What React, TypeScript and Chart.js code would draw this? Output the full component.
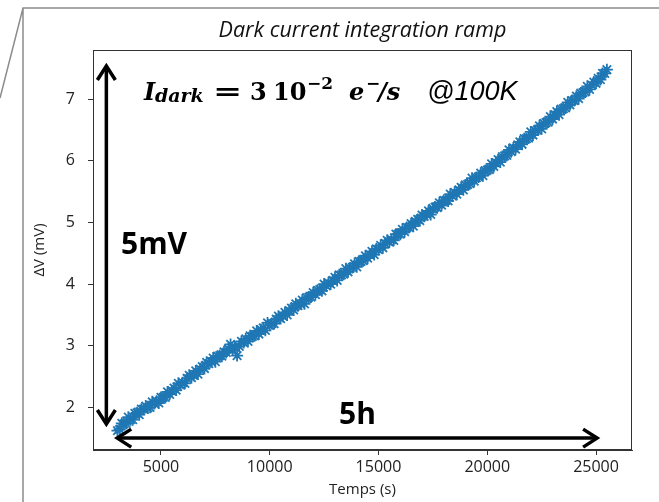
import { useEffect, useRef } from "react";
import { Chart, registerables } from "chart.js";

Chart.register(...registerables);

// ---- Data (time in s, ΔV in mV) ----
const TIME_S = [
  3000, 3100, 3200, 3300, 3400, 3500, 3600, 3700, 3800, 3900,
  4000, 4100, 4200, 4300, 4400, 4500, 4600, 4700, 4800, 4900,
  5000, 5100, 5200, 5300, 5400, 5500, 5600, 5700, 5800, 5900,
  6000, 6100, 6200, 6300, 6400, 6500, 6600, 6700, 6800, 6900,
  7000, 7100, 7200, 7300, 7400, 7500, 7600, 7700, 7800, 7900,
  8000, 8100, 8200, 8300, 8400, 8500, 8600, 8700, 8800, 8900,
  9000, 9100, 9200, 9300, 9400, 9500, 9600, 9700, 9800, 9900,
  10000, 10100, 10200, 10300, 10400, 10500, 10600, 10700, 10800, 10900,
  11000, 11100, 11200, 11300, 11400, 11500, 11600, 11700, 11800, 11900,
  12000, 12100, 12200, 12300, 12400, 12500, 12600, 12700, 12800, 12900,
  13000, 13100, 13200, 13300, 13400, 13500, 13600, 13700, 13800, 13900,
  14000, 14100, 14200, 14300, 14400, 14500, 14600, 14700, 14800, 14900,
  15000, 15100, 15200, 15300, 15400, 15500, 15600, 15700, 15800, 15900,
  16000, 16100, 16200, 16300, 16400, 16500, 16600, 16700, 16800, 16900,
  17000, 17100, 17200, 17300, 17400, 17500, 17600, 17700, 17800, 17900,
  18000, 18100, 18200, 18300, 18400, 18500, 18600, 18700, 18800, 18900,
  19000, 19100, 19200, 19300, 19400, 19500, 19600, 19700, 19800, 19900,
  20000, 20100, 20200, 20300, 20400, 20500, 20600, 20700, 20800, 20900,
  21000, 21100, 21200, 21300, 21400, 21500, 21600, 21700, 21800, 21900,
  22000, 22100, 22200, 22300, 22400, 22500, 22600, 22700, 22800, 22900,
  23000, 23100, 23200, 23300, 23400, 23500, 23600, 23700, 23800, 23900,
  24000, 24100, 24200, 24300, 24400, 24500, 24600, 24700, 24800, 24900,
  25000, 25100, 25200, 25300, 25400, 25500,
];

const DELTA_MV = [
  1.62, 1.64, 1.74, 1.73, 1.74, 1.84, 1.80, 1.80, 1.90, 1.91,
  1.88, 1.97, 1.97, 2.02, 1.99, 2.00, 2.09, 2.06, 2.10, 2.07,
  2.16, 2.16, 2.16, 2.25, 2.21, 2.27, 2.31, 2.28, 2.39, 2.36,
  2.40, 2.39, 2.47, 2.52, 2.48, 2.52, 2.59, 2.54, 2.62, 2.66,
  2.63, 2.73, 2.71, 2.74, 2.80, 2.74, 2.83, 2.84, 2.83, 2.90,
  2.89, 2.95, 3.02, 2.93, 2.98, 2.84, 2.99, 3.07, 3.05, 3.11,
  3.07, 3.16, 3.15, 3.16, 3.24, 3.19, 3.26, 3.29, 3.25, 3.37,
  3.33, 3.36, 3.36, 3.43, 3.48, 3.44, 3.48, 3.54, 3.50, 3.57,
  3.61, 3.58, 3.68, 3.65, 3.68, 3.74, 3.68, 3.78, 3.79, 3.79,
  3.86, 3.83, 3.90, 3.91, 3.89, 4.00, 3.97, 4.02, 4.00, 4.06,
  4.11, 4.06, 4.15, 4.15, 4.16, 4.25, 4.20, 4.26, 4.27, 4.33,
  4.28, 4.37, 4.37, 4.38, 4.46, 4.42, 4.48, 4.53, 4.48, 4.57,
  4.56, 4.63, 4.59, 4.66, 4.71, 4.68, 4.72, 4.71, 4.81, 4.81,
  4.81, 4.89, 4.85, 4.92, 4.92, 4.98, 4.94, 5.02, 5.05, 5.03,
  5.12, 5.10, 5.13, 5.19, 5.13, 5.23, 5.25, 5.24, 5.32, 5.28,
  5.36, 5.36, 5.35, 5.46, 5.43, 5.49, 5.46, 5.53, 5.57, 5.53,
  5.61, 5.62, 5.63, 5.72, 5.67, 5.73, 5.74, 5.80, 5.76, 5.84,
  5.85, 5.86, 5.95, 5.91, 5.97, 6.02, 5.98, 6.07, 6.08, 6.09,
  6.18, 6.15, 6.21, 6.19, 6.26, 6.31, 6.27, 6.36, 6.36, 6.37,
  6.47, 6.42, 6.49, 6.50, 6.57, 6.52, 6.61, 6.62, 6.63, 6.72,
  6.68, 6.75, 6.80, 6.75, 6.84, 6.85, 6.86, 6.95, 6.91, 6.98,
  6.98, 7.05, 7.01, 7.10, 7.11, 7.12, 7.21, 7.16, 7.23, 7.28,
  7.26, 7.34, 7.32, 7.42, 7.42, 7.48,
];

const X_LIMITS = [1876, 26654];
const Y_LIMITS = [1.307, 7.8];
const X_TICKS = [5000, 10000, 15000, 20000, 25000];
const Y_TICKS = [2, 3, 4, 5, 6, 7];

const TITLE = "Dark current integration ramp";
const X_TITLE = "Temps (s)";
const Y_TITLE = "ΔV (mV)";

const BLUE = "#1f77b4";
const AXIS = "#333333";

function arrowHead(ctx: CanvasRenderingContext2D, tx: number, ty: number, dx: number, dy: number, len: number, half: number) {
  const bx = tx - dx * len;
  const by = ty - dy * len;
  const px = -dy;
  const py = dx;
  ctx.beginPath();
  ctx.moveTo(bx + px * half, by + py * half);
  ctx.lineTo(tx, ty);
  ctx.lineTo(bx - px * half, by - py * half);
  ctx.stroke();
}

const annotationPlugin = {
  id: "annotations",
  afterDraw(chart: any) {
    const { ctx, chartArea: a, scales } = chart;
    const xs = scales.x;
    const ys = scales.y;
    ctx.save();

    // outer slide frame
    ctx.strokeStyle = "#8c8c8c";
    ctx.lineWidth = 1.5;
    ctx.beginPath();
    ctx.moveTo(0, 98);
    ctx.lineTo(23, 8);
    ctx.lineTo(659, 8);
    ctx.moveTo(23, 8);
    ctx.lineTo(23, 502);
    ctx.stroke();

    // plot frame
    ctx.strokeStyle = AXIS;
    ctx.lineWidth = 1;
    ctx.strokeRect(a.left + 0.5, a.top + 0.5, a.right - a.left - 1, a.bottom - a.top - 1);

    // arrows
    ctx.strokeStyle = "#000";
    ctx.lineWidth = 3.5;
    ctx.lineCap = "butt";
    ctx.lineJoin = "miter";
    const vx = xs.getPixelForValue(2490);
    const vTop = ys.getPixelForValue(7.54);
    const vBot = ys.getPixelForValue(1.73);
    ctx.beginPath();
    ctx.moveTo(vx, vTop + 2);
    ctx.lineTo(vx, vBot - 2);
    ctx.stroke();
    arrowHead(ctx, vx, vTop, 0, -1, 14, 9);
    arrowHead(ctx, vx, vBot, 0, 1, 14, 9);

    const hy = ys.getPixelForValue(1.5);
    const hL = xs.getPixelForValue(2990);
    const hR = xs.getPixelForValue(25050);
    ctx.beginPath();
    ctx.moveTo(hL + 2, hy);
    ctx.lineTo(hR - 2, hy);
    ctx.stroke();
    arrowHead(ctx, hL, hy, -1, 0, 14, 9);
    arrowHead(ctx, hR, hy, 1, 0, 14, 9);

    // labels
    ctx.fillStyle = "#000";
    ctx.textBaseline = "alphabetic";
    ctx.textAlign = "left";
    ctx.font = "bold 30px 'Open Sans'";
    ctx.fillText("5mV", 121, 254);
    ctx.fillText("5h", 339, 424);

    // formula
    const serif = "'DejaVu Serif'";
    ctx.font = `italic bold 24px ${serif}`;
    ctx.fillText("I", 144, 100);
    ctx.font = `italic bold 19px ${serif}`;
    ctx.fillText("dark", 155, 102);
    ctx.font = `bold 24px ${serif}`;
    ctx.save();
    ctx.translate(213, 100);
    ctx.scale(1.45, 1);
    ctx.fillText("=", 0, 0);
    ctx.restore();
    ctx.fillText("3", 250, 100);
    ctx.fillText("10", 273, 100);
    ctx.font = `bold 17px ${serif}`;
    ctx.fillText("−2", 307, 89);
    ctx.font = `italic bold 24px ${serif}`;
    ctx.fillText("e", 349, 100);
    ctx.font = `bold 17px ${serif}`;
    ctx.fillText("−", 366, 89);
    ctx.font = `italic bold 24px ${serif}`;
    ctx.fillText("/s", 378, 100);
    ctx.font = "italic 27px 'Liberation Sans'";
    ctx.fillText("@100K", 427, 100);

    ctx.restore();
  },
};

export default function App() {
  const ref = useRef<HTMLCanvasElement | null>(null);

  useEffect(() => {
    if (!ref.current) return;
    const points = TIME_S.map((t, i) => ({ x: t, y: DELTA_MV[i] }));
    const tickFont = { family: "'Open Sans'", size: 16 };
    const chart = new Chart(ref.current, {
      type: "scatter",
      data: {
        datasets: [
          {
            data: points,
            pointStyle: "star",
            pointRadius: 6,
            pointBorderWidth: 1.8,
            borderColor: BLUE,
            backgroundColor: BLUE,
            showLine: false,
          },
        ],
      },
      options: {
        responsive: false,
        animation: false,
        events: [],
        devicePixelRatio: 1,
        layout: { padding: { left: 0, right: 27, top: 0, bottom: 0 } },
        plugins: {
          legend: { display: false },
          tooltip: { enabled: false },
          title: {
            display: true,
            text: TITLE,
            fullSize: false,
            color: "#111",
            font: { family: "'Open Sans'", size: 21.5, style: "italic", weight: "normal" },
            padding: { top: 18.2, bottom: 6.0 },
          },
        },
        scales: {
          x: {
            type: "linear",
            min: X_LIMITS[0],
            max: X_LIMITS[1],
            afterFit: (s: any) => {
              s.height = 52;
            },
            afterBuildTicks: (s: any) => {
              s.ticks = X_TICKS.map((v) => ({ value: v }));
            },
            ticks: {
              maxRotation: 0,
              autoSkip: false,
              color: "#222",
              font: tickFont,
              padding: 3,
              callback: (v: any) => String(v),
            },
            grid: { drawOnChartArea: false, drawTicks: true, tickLength: 5, color: AXIS },
            border: { display: true, color: AXIS },
            title: {
              display: true,
              text: X_TITLE,
              color: "#222",
              font: { family: "'Open Sans'", size: 15 },
              padding: { top: 0, bottom: 3 },
            },
          },
          y: {
            type: "linear",
            min: Y_LIMITS[0],
            max: Y_LIMITS[1],
            afterFit: (s: any) => {
              s.width = 93;
            },
            afterBuildTicks: (s: any) => {
              s.ticks = Y_TICKS.map((v) => ({ value: v }));
            },
            ticks: {
              color: "#222",
              font: tickFont,
              padding: 13,
              callback: (v: any) => String(v),
            },
            grid: { drawOnChartArea: false, drawTicks: true, tickLength: 5, color: AXIS },
            border: { display: true, color: AXIS },
            title: {
              display: true,
              text: Y_TITLE,
              color: "#222",
              font: { family: "'Open Sans'", size: 15 },
              padding: { top: 31, bottom: 0 },
            },
          },
        },
      },
      plugins: [annotationPlugin],
    } as any);
    return () => chart.destroy();
  }, []);

  return (
    <div style={{ position: "absolute", left: 0, top: 0, width: 659, height: 502, background: "#fff" }}>
      <canvas ref={ref} width={659} height={502} style={{ display: "block" }} />
    </div>
  );
}
